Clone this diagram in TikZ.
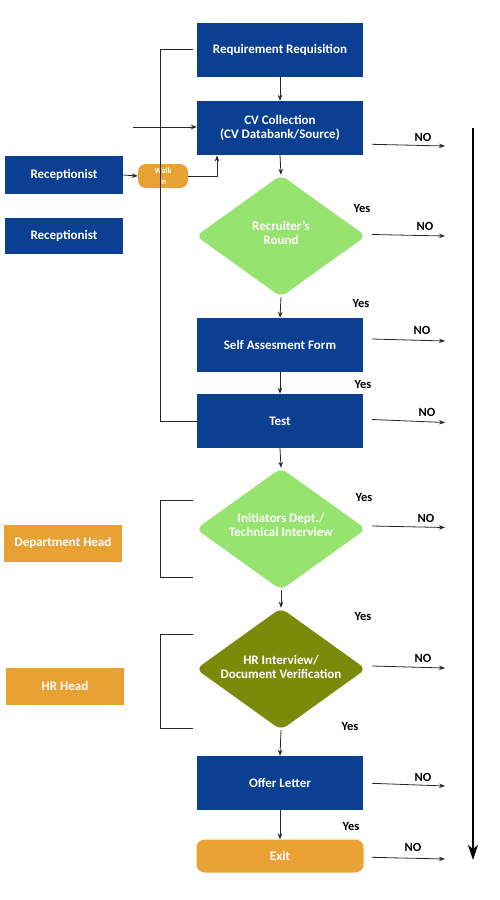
\documentclass[tikz,border=0pt]{standalone}
\usepackage{fontspec}
\setmainfont{Carlito}
\usetikzlibrary{shapes.geometric,arrows.meta}
\definecolor{hrblue}{HTML}{0A3F91}
\definecolor{hrgreen}{HTML}{97E36F}
\definecolor{hrolive}{HTML}{7A8B0B}
\definecolor{hrorange}{HTML}{E8A234}
\begin{document}
\begin{tikzpicture}[x=1pt,y=-1pt,
  lbl/.style={font=\bfseries\fontsize{13}{14}\selectfont, align=center, inner sep=0pt},
  bluebox/.style={lbl, fill=hrblue, text=white, minimum width=166pt, minimum height=54pt},
  orangebox/.style={lbl, fill=hrorange, text=white, minimum width=118pt, minimum height=37pt},
  dia/.style={diamond, aspect=1.4, rounded corners=7pt, inner sep=0pt, minimum width=170pt, minimum height=122pt},
  dtext/.style={lbl, text=white},
  conn/.style={draw=black!85, line width=0.8pt, -{Stealth[length=6pt,width=4.5pt]}},
  plain/.style={draw=black!85, line width=0.8pt},
  yeslbl/.style={font=\bfseries\fontsize{12.5}{14}\selectfont, inner sep=0pt},
]
\useasboundingbox (0,0) rectangle (500,900);

% main column
\node[bluebox] (req) at (280,50) {Requirement Requisition};
\node[bluebox] (cv) at (280,128) {CV Collection\\(CV Databank/Source)};
\node[dia, fill=hrgreen] (rr) at (281,236) {};
\node[dtext] (rrt) at (281,233) {Recruiter's\\Round};
\node[bluebox] (saf) at (280,345) {Self Assesment Form};
\node[bluebox] (test) at (280,421) {Test};
\node[dia, fill=hrgreen] (init) at (281,529) {};
\node[dtext] (initt) at (281,524.5) {Initiators Dept./\\Technical Interview};
\node[dia, fill=hrolive] (hri) at (281,669) {};
\node[dtext] (hrit) at (281,667) {HR Interview/\\Document Verification};
\node[bluebox] (offer) at (280,783) {Offer Letter};
\node[lbl, fill=hrorange, text=white, rounded corners=8pt, minimum width=167pt, minimum height=33pt] (exit) at (280,856) {Exit};

% left side
\node[bluebox, minimum width=118pt, minimum height=38pt] (rec1) at (64,175) {Receptionist};
\node[bluebox, minimum width=118pt, minimum height=36pt] (rec2) at (64,236) {Receptionist};
\node[lbl, fill=hrorange, text=white, rounded corners=8pt, minimum width=50pt, minimum height=24pt,
      font=\bfseries\fontsize{8}{11}\selectfont] (walk) at (163,176) {Walk\\In};
\node[orangebox] (dept) at (63,543) {Department Head};
\node[orangebox] (hrhead) at (65,686) {HR Head};

% vertical flow
\draw[conn] (req.south) -- (cv.north);
\draw[conn] (cv.south) -- (rr.north);
\draw[conn] (rr.south) -- (saf.north);
\draw[conn] (saf.south) -- (test.north);
\draw[conn] (test.south) -- (init.north);
\draw[conn] (init.south) -- (hri.north);
\draw[conn] (hri.south) -- (offer.north);
\draw[conn] (offer.south) -- (exit.north);

% left bracket and inputs
\coordinate (bt) at (193,49);
\draw[plain] (bt) -- (160,49) -- (160,421) -- (test.west);
\coordinate (cvin) at (133,127);
\draw[conn] (cvin) -- (cv.west |- cvin);
\draw[conn] (rec1.east) -- (walk.west);
\draw[conn] (walk.east) -- (217,176) -- (217,155.5);

\coordinate (b1a) at (193,500);
\coordinate (b1b) at (193,577);
\draw[plain] (b1a) -- (160,500) -- (160,577) -- (b1b);
\coordinate (b2a) at (193,634);
\coordinate (b2b) at (193,728);
\draw[plain] (b2a) -- (160,634) -- (160,728) -- (b2b);

% NO arrows
\foreach \n/\ya/\yb/\lx/\ly in {a/144.3/146/423/137, b/234.5/236/425/226, c/339/341/422/330,
  d/419.5/422.5/427/412, e/526/527.5/426/518, f/666/668/423/658, g/783.3/786/423/777, h/857.3/859/413/847}{
  \coordinate (no\n s) at (372,\ya);
  \coordinate (no\n e) at (445,\yb);
  \draw[conn] (no\n s) -- (no\n e);
  \node[yeslbl] (nol\n) at (\lx,\ly) {NO};
}

% Yes labels
\foreach \n/\lx/\ly in {a/362/208, b/361/303, c/363/384, d/364/497, e/363/616, f/350/726, g/351/826}{
  \node[yeslbl] (yes\n) at (\lx,\ly) {Yes};
}

% big arrow
\coordinate (bigtop) at (473,128);
\coordinate (bigbot) at (473,860);
\draw[line width=2.2pt, -{Stealth[length=15pt,width=10pt,inset=4pt]}] (bigtop) -- (bigbot);
\end{tikzpicture}
\end{document}
